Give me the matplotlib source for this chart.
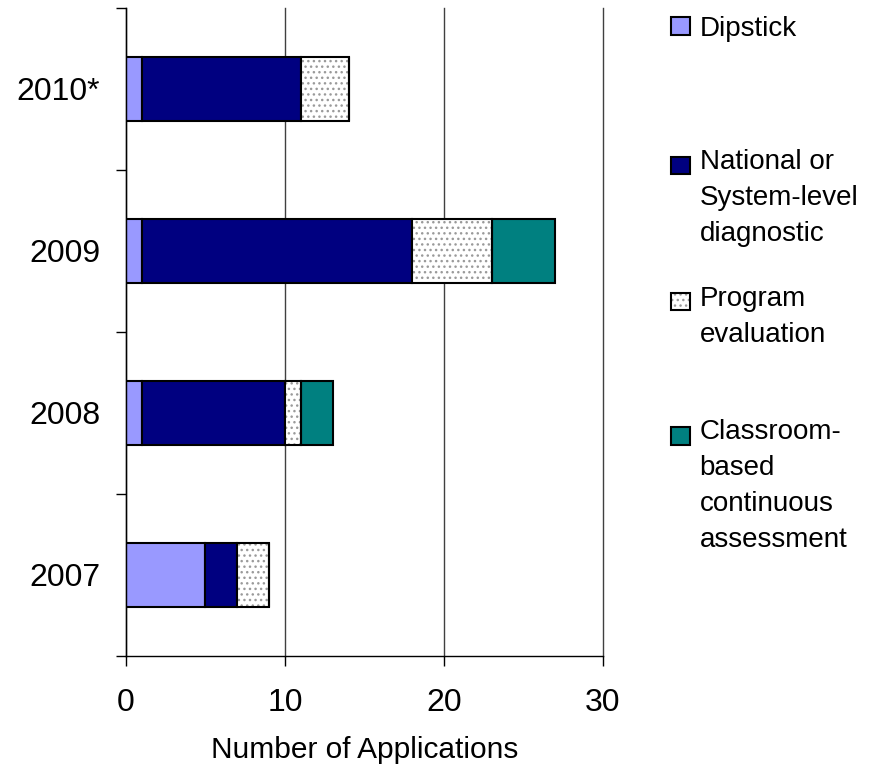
import matplotlib
matplotlib.use("Agg")
import matplotlib.pyplot as plt
from matplotlib.patches import Rectangle
from matplotlib.ticker import FixedLocator
import numpy as np

plt.rcParams["font.family"] = ["Liberation Sans", "DejaVu Sans"]
plt.rcParams["hatch.linewidth"] = 1.0

years = ["2007", "2008", "2009", "2010*"]
dipstick = [5, 1, 1, 1]
national = [2, 9, 17, 10]
program_eval = [2, 1, 5, 3]
classroom = [0, 2, 4, 0]

labels = [
    "Dipstick",
    "National or\nSystem-level\ndiagnostic",
    "Program\nevaluation",
    "Classroom-\nbased\ncontinuous\nassessment",
]
x_ticks = [0, 10, 20, 30]

W, H = 878, 766
DPI = 100
fig = plt.figure(figsize=(W / DPI, H / DPI), dpi=DPI)
ax = fig.add_axes([126 / W, 1 - 656 / H, (603 - 126) / W, (656 - 8) / H])

y = np.arange(len(years))
h = 0.4
left = np.zeros(len(years))

b1 = ax.barh(y, dipstick, h, left=left, color="#9999FF", edgecolor="black", linewidth=1.5, zorder=3)
left += dipstick
b2 = ax.barh(y, national, h, left=left, color="#000080", edgecolor="black", linewidth=1.5, zorder=3)
left += national
# dotted fill first (gray hatch), then a black outline on top
b3h = ax.barh(y, program_eval, h, left=left, color="white", edgecolor="#9a9a9a", hatch="...",
              linewidth=0, zorder=3)
b3o = ax.barh(y, program_eval, h, left=left, fill=False, edgecolor="black", linewidth=1.5, zorder=4)
left += program_eval
b4 = ax.barh(y, classroom, h, left=left, color="#008080", edgecolor="black", linewidth=1.5, zorder=3)

ax.set_xlim(0, 30)
ax.set_ylim(-0.5, len(years) - 0.5)
ax.set_xticks(x_ticks)
ax.set_yticks(y)
ax.set_yticklabels(years)
ax.yaxis.set_minor_locator(FixedLocator(np.arange(-0.5, len(years), 1.0)))
ax.tick_params(axis="y", which="major", length=0, pad=18.5, labelsize=23)
ax.tick_params(axis="y", which="minor", length=7, width=1, direction="out")
ax.tick_params(axis="x", length=7, width=1, direction="out", pad=16, labelsize=23)
ax.set_xlabel("Number of Applications", fontsize=21.5, labelpad=13)

ax.grid(True, axis="x", color="#404040", linewidth=1, zorder=0)
for gl in ax.get_xgridlines():
    gl.set_clip_on(False)
ax.spines["top"].set_visible(False)
ax.spines["right"].set_visible(False)
for s in ("left", "bottom"):
    ax.spines[s].set_linewidth(1)
    ax.spines[s].set_zorder(5)

# one legend per series so each entry can sit at its own height
entries = [(b1, 16), (b2, 149), ((b3h, b3o), 286), (b4, 419)]
legends = []
for (handle, top), lab in zip(entries, labels):
    leg = fig.legend([handle], [lab], loc="upper left", bbox_to_anchor=(671 / W, 1 - top / H),
                     frameon=False, fontsize=20, borderpad=0, borderaxespad=0,
                     handlelength=0.7, handleheight=0.6, handletextpad=0.33)
    for t in leg.get_texts():
        t.set_linespacing(1.5)
    legends.append(leg)

# legend swatches line up with the first line of their label, not its middle
fig.canvas.draw()
for leg, lab in zip(legends, labels):
    n = lab.count("\n") + 1
    if n == 1:
        continue
    tb = leg.get_texts()[0].get_window_extent()
    line_h = tb.height / n
    first_mid = tb.y1 - line_h / 2
    rects = leg.findobj(Rectangle)
    rb = rects[0].get_window_extent()
    dy = (first_mid - (rb.y0 + rb.y1) / 2) * 72 / DPI
    for r in rects:
        r.set_y(r.get_y() + dy)

fig.savefig("out.png", dpi=DPI)
